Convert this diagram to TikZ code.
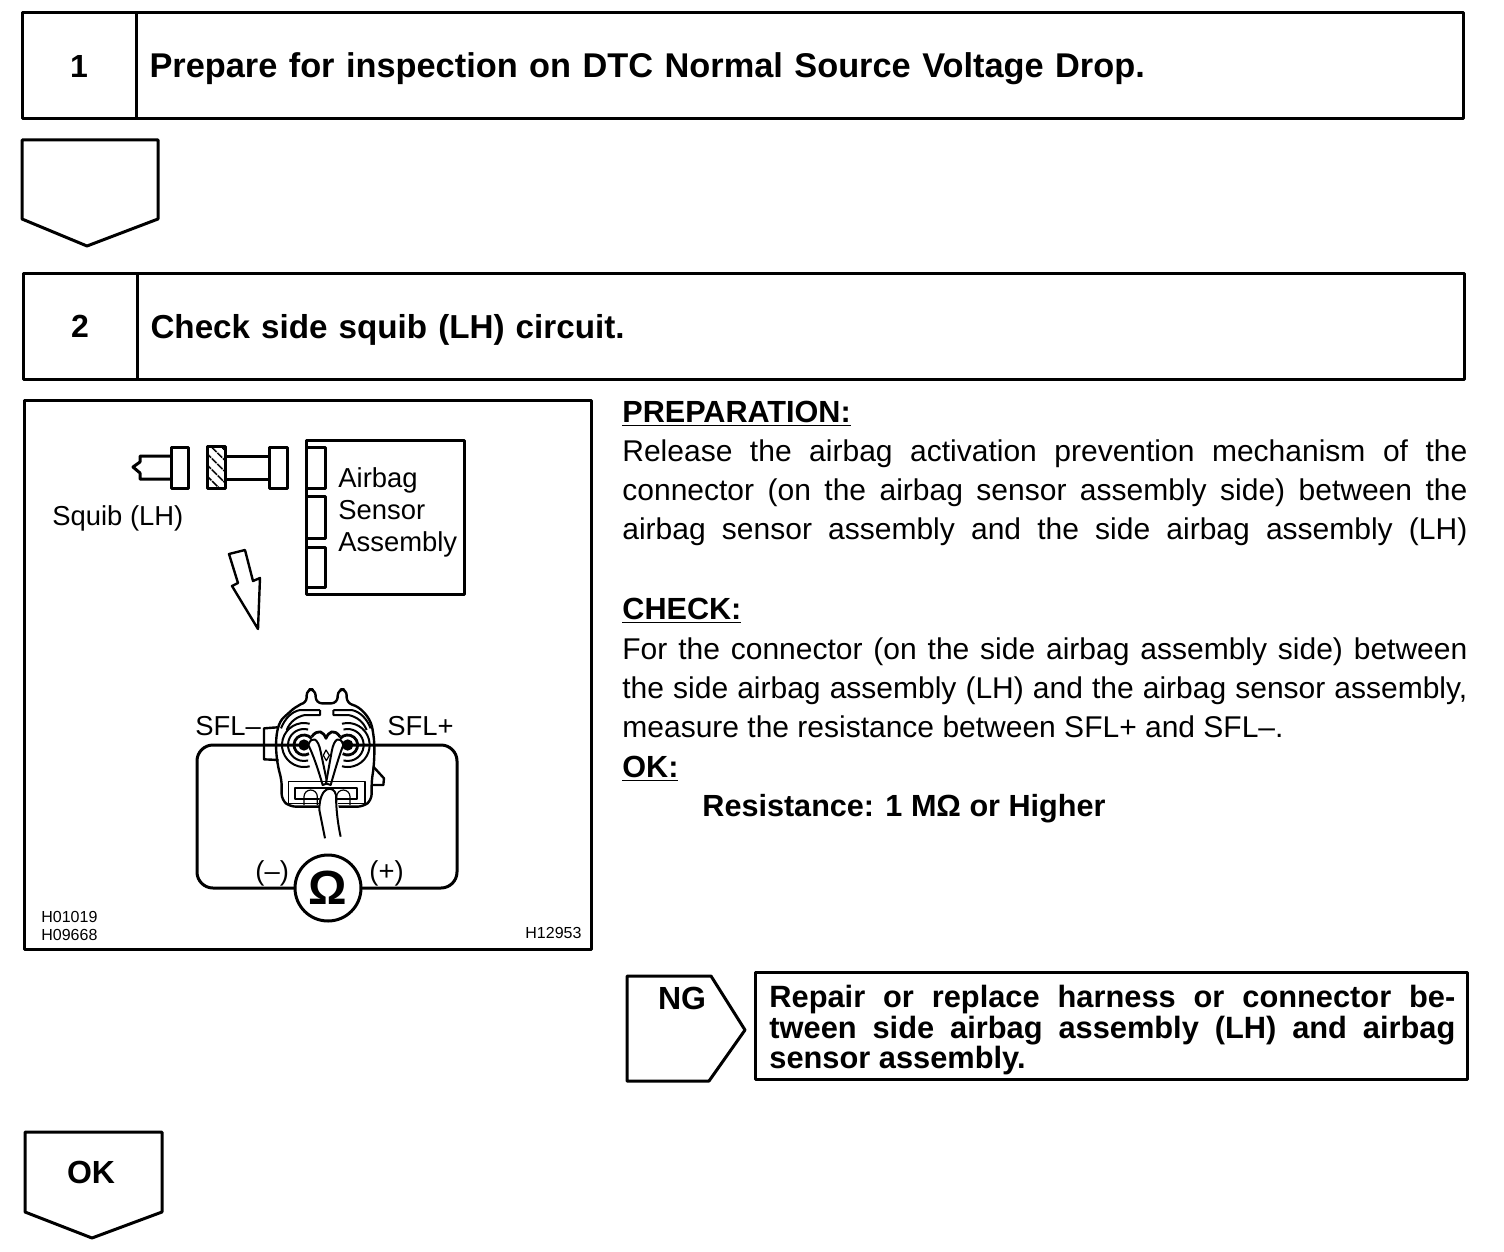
\documentclass[tikz,border=0pt]{standalone}
\usepackage{fontspec}
\setmainfont{Liberation Sans}
\usetikzlibrary{patterns.meta}

\tikzset{
    frameline/.style={draw, line width=1.5pt},
    numbox/.style={frameline, outer sep=0pt, minimum width=57pt, minimum height=53pt, anchor=north west, inner sep=0pt, font=\fontsize{16}{19}\selectfont\bfseries},
    titlebox/.style={frameline, outer sep=0pt, minimum width=663.5pt, minimum height=53pt, anchor=north west, inner sep=6.5pt, text width=650pt, text height=14pt, text depth=2pt, font=\fontsize{17.17}{20}\selectfont\bfseries},
    bodytext/.style={anchor=north west, inner sep=0pt, text width=422.5pt, align=justify, font=\fontsize{15}{19.6}\selectfont},
    headtext/.style={anchor=base west, inner sep=0pt, font=\fontsize{15.3}{19}\selectfont\bfseries},
    figtext/.style={anchor=base west, inner sep=0pt, font=\fontsize{13.7}{15}\selectfont},
    codetext/.style={anchor=base west, inner sep=0pt, font=\fontsize{8}{9}\selectfont},
    faceline/.style={line width=1pt},
    thinline/.style={line width=0.6pt},
    wireline/.style={line width=1.5pt, rounded corners=8pt},
}

\begin{document}
\begin{tikzpicture}[x=0.5pt, y=-0.5pt, line join=round]
    \useasboundingbox (0,0) rectangle (1504,1252);

    % Step boxes
    \node[numbox] (num1) at (22,13) {1};
    \node[titlebox] (title1) at (136,13) {Prepare for inspection on DTC Normal Source Voltage Drop.};
    \node[numbox] (num2) at (23,273) {2};
    \node[titlebox, font=\fontsize{16.6}{20}\selectfont\bfseries] (title2) at (137,273) {Check side squib (LH) circuit.};

    % Flow pentagons
    \draw[frameline] (22,140) -- (158,140) -- (158,219) -- (87,246) -- (22,219) -- cycle;
    \draw[frameline] (25,1132) -- (162,1132) -- (162,1212) -- (92,1238) -- (25,1212) -- cycle;
    \node[font=\fontsize{16}{19}\selectfont\bfseries] (oklabel) at (91,1172) {OK};
    \draw[frameline] (627,976) -- (711,976) -- (745,1030) -- (709,1081) -- (627,1081) -- cycle;
    \node[font=\fontsize{16}{19}\selectfont\bfseries] (nglabel) at (682,998) {NG};

    % Repair box
    \node[frameline, outer sep=0pt, anchor=north west, minimum width=356pt, minimum height=53.5pt, inner sep=0pt] (repair) at (755,972) {};
    \node[bodytext, text width=343pt, font=\fontsize{15.4}{15.2}\selectfont\bfseries] (repairtext) at (769,985)
        {Repair or replace harness or connector be-\linebreak tween side airbag assembly (LH) and airbag\linebreak sensor assembly.};

    % Text column
    \node[headtext] (prep) at (622,422) {\underline{PREPARATION:}};
    \node[bodytext] (preptext) at (622,439)
        {Release the airbag activation prevention mechanism of the\linebreak connector (on the airbag sensor assembly side) between the\linebreak airbag sensor assembly and the side airbag assembly (LH)\linebreak};
    \node[headtext] (check) at (622,619) {\underline{CHECK:}};
    \node[bodytext] (checktext) at (622,637)
        {For the connector (on the side airbag assembly side) between\linebreak the side airbag assembly (LH) and the airbag sensor assembly,\linebreak measure the resistance between SFL+ and SFL–.};
    \node[headtext] (oktext) at (622,777) {\underline{OK:}};
    \node[headtext] (resist) at (702,816) {Resistance: 1 MΩ or Higher};

    % Figure frame
    \node[frameline, outer sep=0pt, anchor=north west, minimum width=283.5pt, minimum height=274.5pt, inner sep=0pt] (figframe) at (24,400) {};
    \node[codetext] (codea) at (41,922) {H01019};
    \node[codetext] (codeb) at (41,940) {H09668};
    \node[codetext] (codec) at (525,938) {H12953};

    % Squib and plug
    \draw[frameline] (171,456) -- (140,456) -- (140,462) -- (133,467) -- (140,473) -- (140,479) -- (171,479);
    \draw[frameline] (171,447) rectangle (188,488);
    \draw[frameline, pattern={Lines[angle=-45, distance=4pt, line width=0.9pt]}] (207,446) rectangle (225,488);
    \draw[frameline] (225,456) -- (269,456) (225,479) -- (269,479);
    \draw[frameline] (269,447) rectangle (287,488);
    \node[figtext] (squib) at (52,525) {Squib (LH)};

    % Sensor assembly
    \draw[frameline] (306,440) rectangle (464,594);
    \draw[frameline] (306,447) -- (325,447) -- (325,488) -- (306,488);
    \draw[frameline] (306,496) -- (325,496) -- (325,538) -- (306,538);
    \draw[frameline] (306,547) -- (325,547) -- (325,587) -- (306,587);
    \node[figtext] (airbag) at (338,487) {Airbag};
    \node[figtext] (sensor) at (338,519) {Sensor};
    \node[figtext] (assembly) at (338,551) {Assembly};

    % Down arrow
    \draw[line width=1.2pt] (229,554) -- (245,550) -- (253,581) -- (260,578) -- (258,629) -- (232,586) -- (238,583) -- cycle;

    % Connector face
    \begin{scope}[shift={(180,670)}, scale=1/3]
        \draw[line width=1.2pt, fill=white, rounded corners=3pt]
            (305,330) .. controls (285,260) and (280,170) .. (325,130) .. controls (345,112) and (365,102) .. (380,100)
            -- (380,58) -- (406,58) -- (408,100) -- (472,100) -- (474,58) -- (500,58) -- (500,100)
            .. controls (540,110) and (570,140) .. (580,190) .. controls (585,240) and (582,290) .. (575,330)
            -- (575,390) -- (550,410) -- (330,410) -- (305,390) -- cycle;
        \draw[line width=1.2pt] (292,172) -- (252,175) -- (252,268) -- (296,270);
        \draw[line width=1.2pt] (580,290) -- (612,325) -- (610,345) -- (575,345);

        % shoulder bands
        \draw[faceline] (420,120) -- (360,120) .. controls (335,125) and (315,145) .. (303,175);
        \draw[faceline] (420,120) -- (420,135) -- (375,135) .. controls (350,140) and (330,155) .. (320,180);
        \draw[faceline] (460,120) -- (515,120) .. controls (540,125) and (560,145) .. (572,175);
        \draw[faceline] (460,120) -- (460,135) -- (505,135) .. controls (530,140) and (550,155) .. (560,180);

        % rings round the terminals
        \foreach \ringrad in {48,66} {
            \draw[faceline] (372,225) ++(285:\ringrad) arc[start angle=285, end angle=75, radius=\ringrad];
            \draw[faceline] (503,225) ++(255:\ringrad) arc[start angle=255, end angle=465, radius=\ringrad];
        }
        \draw[line width=1.4pt] (372,225) ++(320:30) arc[start angle=320, end angle=60, radius=30];
        \draw[line width=1.4pt] (503,225) ++(220:30) arc[start angle=220, end angle=480, radius=30];
        \draw[line width=1.4pt] (395,200) .. controls (415,175) and (430,185) .. (438,205) .. controls (446,185) and (462,175) .. (480,200);
        \fill (372,225) circle[radius=17];
        \fill (503,225) circle[radius=17];

        % wires
        \draw[fill=white, faceline] (385,225) .. controls (395,195) and (415,205) .. (422,245) -- (442,340) -- (428,345) .. controls (415,300) and (400,255) .. (385,225);
        \draw[fill=white, faceline] (490,225) .. controls (480,195) and (462,205) .. (455,245) -- (438,340) -- (452,345) .. controls (465,300) and (478,255) .. (490,225);
        \draw[thinline] (438,240) -- (430,256) -- (439,272) -- (448,256) -- cycle;

        % lower latch
        \draw[thinline] (325,335) -- (555,335) -- (555,400) -- (325,400) -- cycle;
        \draw[faceline] (345,355) -- (530,355) -- (530,388) -- (345,388) -- cycle;
        \draw[thinline] (372,405) -- (372,380) arc[start angle=180, end angle=360, radius=20] -- (412,405);
        \draw[thinline] (470,405) -- (470,380) arc[start angle=180, end angle=360, radius=20] -- (510,405);

        % cable
        \fill[white] (420,365) -- (465,365) -- (478,420) -- (418,420) -- cycle;
        \draw[faceline] (418,420) .. controls (418,345) and (462,345) .. (468,375) .. controls (468,420) and (475,470) .. (482,500);
        \draw[faceline] (418,420) -- (435,505);
        \coordinate (termL) at (372,225);
        \coordinate (termR) at (503,225);
    \end{scope}
    \node[figtext] (sflm) at (195,735) {SFL–};
    \node[figtext] (sflp) at (387,735) {SFL+};

    % Meter loop
    \node[circle, frameline, outer sep=0pt, fill=white, minimum size=33pt, inner sep=0pt, font=\fontsize{24}{28}\selectfont\bfseries] (meter) at (328,888) {Ω};
    \node[figtext] (minus) at (255,880) {(–)};
    \node[figtext] (plus) at (369,880) {(+)};
    \draw[wireline] (termL) -- (197,745) -- (197,888) -- (meter.west);
    \draw[wireline] (termR) -- (457,745) -- (457,888) -- (meter.east);
\end{tikzpicture}
\end{document}
